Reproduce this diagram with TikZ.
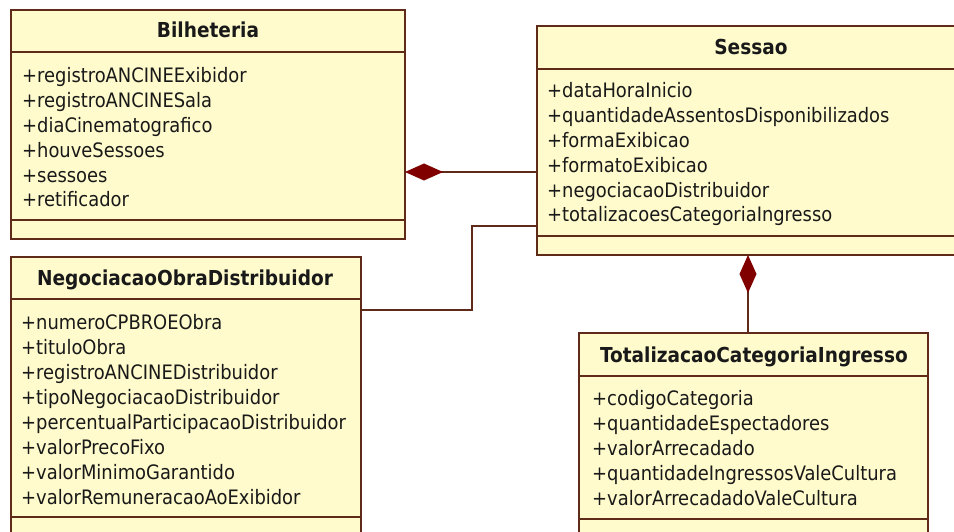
\documentclass[tikz,border=0pt]{standalone}
\usepackage{fontspec}
\setmainfont{DejaVu Sans Condensed}
\usetikzlibrary{arrows.meta,calc}
\definecolor{umlfill}{RGB}{255,251,204}
\definecolor{umlline}{RGB}{96,42,24}
\definecolor{umldia}{RGB}{128,0,0}
\begin{document}
\begin{tikzpicture}[x=1pt,y=-1pt,
  box/.style={draw=umlline, fill=umlfill, line width=1.6pt, inner sep=0pt, outer sep=0pt, anchor=north west},
  sepline/.style={draw=umlline, line width=1.6pt},
  attr/.style={anchor=west, inner sep=0pt, text height=14pt, text depth=0pt, text=black!90, font=\fontsize{19.9}{24}\selectfont},
  title/.style={anchor=center, inner sep=0pt, text height=14pt, text depth=0pt, text=black!90, font=\bfseries\fontsize{20.6}{24}\selectfont},
  conn/.style={draw=umlline, line width=1.4pt},
  comp/.style={{Diamond[length=38pt,width=17pt,color=umldia,fill=umldia]}-}]
\useasboundingbox (0,0) rectangle (954,532);
\clip (0,0) rectangle (954,532);
\fill[white] (0,0) rectangle (954,532);

% boxes
\node[box, minimum width=394pt, minimum height=229pt] (bil) at (11,10) {};
\node[box, minimum width=430pt, minimum height=229pt] (ses) at (537,26) {};
\node[box, minimum width=350pt, minimum height=300pt] (neg) at (11,257) {};
\node[box, minimum width=349pt, minimum height=250pt] (tot) at (579,333) {};

% separators
\draw[sepline] (bil.west |- 0,52) -- (bil.east |- 0,52);
\draw[sepline] (bil.west |- 0,220) -- (bil.east |- 0,220);
\draw[sepline] (ses.west |- 0,69) -- (ses.east |- 0,69);
\draw[sepline] (ses.west |- 0,236) -- (ses.east |- 0,236);
\draw[sepline] (neg.west |- 0,299) -- (neg.east |- 0,299);
\draw[sepline] (neg.west |- 0,517) -- (neg.east |- 0,517);
\draw[sepline] (tot.west |- 0,376) -- (tot.east |- 0,376);
\draw[sepline] (tot.west |- 0,519) -- (tot.east |- 0,519);

% titles
\node[title] (bilT) at (208,31) {Bilheteria};
\node[title] (sesT) at (751,48) {Sessao};
\node[title] (negT) at (185,278) {NegociacaoObraDistribuidor};
\node[title] (totT) at (754,355) {TotalizacaoCategoriaIngresso};

% attributes
\foreach \t [count=\i] in {+registroANCINEExibidor,+registroANCINESala,+diaCinematografico,+houveSessoes,+sessoes,+retificador}
  \node[attr] (bila\i) at (22,{76+24.8*(\i-1)}) {\t};
\foreach \t [count=\i] in {+dataHoraInicio,+quantidadeAssentosDisponibilizados,+formaExibicao,+formatoExibicao,+negociacaoDistribuidor,+totalizacoesCategoriaIngresso}
  \node[attr] (sesa\i) at (547,{91+24.8*(\i-1)}) {\t};
\foreach \t [count=\i] in {+numeroCPBROEObra,+tituloObra,+registroANCINEDistribuidor,+tipoNegociacaoDistribuidor,+percentualParticipacaoDistribuidor,+valorPrecoFixo,+valorMinimoGarantido,+valorRemuneracaoAoExibidor}
  \node[attr] (nega\i) at (21,{322+25*(\i-1)}) {\t};
\foreach \t [count=\i] in {+codigoCategoria,+quantidadeEspectadores,+valorArrecadado,+quantidadeIngressosValeCultura,+valorArrecadadoValeCultura}
  \node[attr] (tota\i) at (592,{398+25.2*(\i-1)}) {\t};

% connectors
\draw[conn, comp] (bil.east |- 0,172) -- (ses.west |- 0,172);
\draw[conn, comp] (ses.south -| 748,0) -- (tot.north -| 748,0);
\coordinate (bend) at (472,226);
\draw[conn] (neg.east |- 0,310) -| (bend) -- (ses.west |- bend);
\end{tikzpicture}
\end{document}
